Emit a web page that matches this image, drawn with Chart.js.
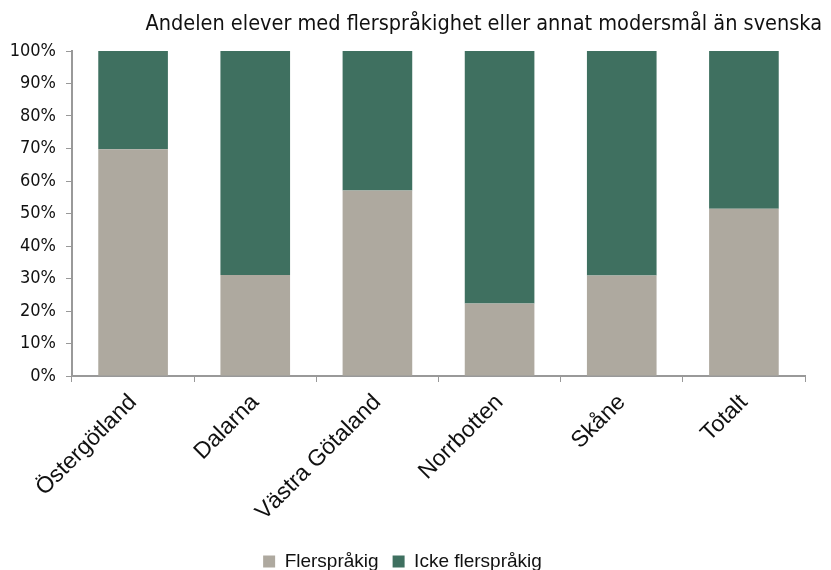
<!DOCTYPE html>
<html>
<head>
<meta charset="utf-8">
<script src="https://cdn.jsdelivr.net/npm/chart.js@4"></script>
<style>
  html, body { margin: 0; padding: 0; background: #fff; }
  #wrap { width: 831px; height: 570px; }
</style>
</head>
<body>
<div id="wrap"><canvas id="chart" width="831" height="570"></canvas></div>
<script>
const categories = ['Östergötland', 'Dalarna', 'Västra Götaland', 'Norrbotten', 'Skåne', 'Totalt'];
const flersprakig = [69.8, 31.1, 57.1, 22.3, 30.9, 51.5];
const ickeFlersprakig = [30.2, 68.9, 42.9, 77.7, 69.1, 48.5];
const yTicks = [0, 10, 20, 30, 40, 50, 60, 70, 80, 90, 100];
const chartTitle = 'Andelen elever med flerspråkighet eller annat modersmål än svenska';

const narrow = '"DejaVu Sans Condensed", "Liberation Sans Narrow", sans-serif';
const regular = '"Liberation Sans", Arial, sans-serif';
const axisColor = '#999999';

// title sits flush right, beyond the plot's right edge
const rightTitle = {
    id: 'rightTitle',
    afterDraw: chart => {
        const ctx = chart.ctx;
        ctx.save();
        ctx.font = '21.5px ' + narrow;
        ctx.fillStyle = '#111';
        ctx.textAlign = 'right';
        ctx.textBaseline = 'alphabetic';
        ctx.fillText(chartTitle, 822, 30);
        ctx.restore();
    }
};

new Chart(document.getElementById('chart'), {
    type: 'bar',
    data: {
        labels: categories,
        datasets: [
            {
                label: 'Flerspråkig',
                data: flersprakig,
                backgroundColor: '#aea99f',
                categoryPercentage: 1,
                barPercentage: 0.57,
            },
            {
                label: 'Icke flerspråkig',
                data: ickeFlersprakig,
                backgroundColor: '#3f7060',
                categoryPercentage: 1,
                barPercentage: 0.57,
            }
        ]
    },
    plugins: [rightTitle],
    options: {
        responsive: false,
        animation: false,
        layout: { padding: { left: 0, right: 26, top: 51, bottom: -11 } },
        plugins: {
            legend: {
                position: 'bottom',
                labels: {
                    color: '#111',
                    font: { family: regular, size: 19 },
                    boxWidth: 12,
                    boxHeight: 12,
                    padding: 14,
                }
            },
            tooltip: { enabled: false }
        },
        scales: {
            x: {
                stacked: true,
                grid: { drawOnChartArea: false, color: axisColor, tickLength: 6, offset: true },
                border: { color: axisColor, width: 2 },
                ticks: {
                    color: '#111',
                    font: { family: regular, size: 23 },
                    maxRotation: 45,
                    minRotation: 45,
                    padding: 7,
                },
                afterFit: scale => { scale.height = 162; }
            },
            y: {
                stacked: true,
                min: 0,
                max: 100,
                afterBuildTicks: scale => { scale.ticks = yTicks.map(v => ({ value: v })); },
                grid: { drawOnChartArea: false, color: axisColor, tickLength: 6 },
                border: { color: axisColor, width: 2 },
                ticks: {
                    color: '#111',
                    font: { family: narrow, size: 18 },
                    padding: 10,
                    callback: value => value + '%'
                },
                afterFit: scale => { scale.width = 72; }
            }
        }
    }
});
</script>
</body>
</html>
